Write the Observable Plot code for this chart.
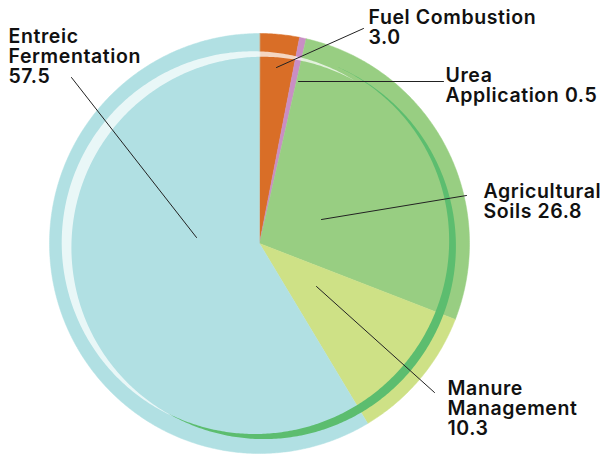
<!DOCTYPE html>
<html>
<head>
<meta charset="utf-8">
<script src="https://cdn.jsdelivr.net/npm/d3@7"></script>
<script src="https://cdn.jsdelivr.net/npm/@observablehq/plot@0.6"></script>
<style>
  html, body { margin: 0; padding: 0; background: #fff; }
  #chart svg text { letter-spacing: 0.6px; }
</style>
</head>
<body>
<div id="chart"></div>
<script>
// ---- data ----
const categories = ["Fuel Combustion", "Urea Application", "Agricultural Soils", "Manure Management", "Entreic Fermentation"];
const values = [3.0, 0.5, 26.8, 10.3, 57.5];
const labels = ["Fuel Combustion\n3.0", "Urea\nApplication 0.5", "Agricultural\nSoils 26.8", "Manure\nManagement\n10.3", "Entreic\nFermentation\n57.5"];
const colors = ["#d96e27", "#c98ec4", "#98ce82", "#cee186", "#b1e0e3"];

// ---- layout (pixel units on the plot's x/y scales) ----
const W = 603, H = 455;
const cx = 259, cy = 243, R = 210;
const labelPos = [[368, 9], [445, 67], [483, 183], [447, 380], [8, 28]];
const leaderPos = [
  [[363, 28], [276, 67]],
  [[443, 81], [298, 81]],
  [[466, 195], [321, 219]],
  [[434, 392], [316, 286]],
  [[71, 77], [196, 237]]
];

const rad = d => d * Math.PI / 180;
const px = (r, deg) => cx + r * Math.sin(rad(deg));
const py = (r, deg) => cy - r * Math.cos(rad(deg));

// slices
const total = d3.sum(values);
const slicePts = [];
let acc = 0;
categories.forEach((name, i) => {
  const a0 = acc / total * 360, a1 = (acc + values[i]) / total * 360;
  acc += values[i];
  slicePts.push({name, x: cx, y: cy});
  const n = Math.max(4, Math.ceil((a1 - a0) / 0.5));
  for (let k = 0; k <= n; k++) {
    const a = a0 + (a1 - a0) * k / n;
    slicePts.push({name, x: px(R, a), y: py(R, a)});
  }
});

// decorative tapered bands
function band(name, t0, t1, thick, rc, pow) {
  const n = 300;
  const outer = [], inner = [];
  for (let k = 0; k <= n; k++) {
    const a = t0 + (t1 - t0) * k / n;
    const s = Math.pow(k / n, pow);
    const t = thick * Math.sin(Math.PI * s);
    const r = rc(a);
    outer.push({name, x: px(r + t / 2, a), y: py(r + t / 2, a)});
    inner.push({name, x: px(r - t / 2, a), y: py(r - t / 2, a)});
  }
  return outer.concat(inner.reverse());
}
const whiteBand = band("white", 206, 390, 11, a => 191 + 2.5 * Math.cos(rad(a - 230)), 1);
const greenBand = band("green", 22, 208, 9, a => 193, 1.3);

const leaders = leaderPos.flatMap((seg, i) => seg.map(([x, y]) => ({i, x, y})));
const labelData = labels.map((t, i) => ({t, x: labelPos[i][0], y: labelPos[i][1]}));

const chart = Plot.plot({
  width: W, height: H,
  margin: 0,
  x: {domain: [0, W], range: [0, W], axis: null},
  y: {domain: [0, H], range: [0, H], axis: null},
  color: {domain: categories, range: colors},
  marks: [
    Plot.line(slicePts, {x: "x", y: "y", z: "name", fill: "name", stroke: "name", strokeWidth: 0.5, curve: "linear-closed"}),
    Plot.line(greenBand, {x: "x", y: "y", fill: "#5cbd6f", stroke: "none", curve: "linear-closed"}),
    Plot.line(whiteBand, {x: "x", y: "y", fill: "#ffffff", fillOpacity: 0.72, stroke: "none", curve: "linear-closed"}),
    Plot.line(leaders, {x: "x", y: "y", z: "i", stroke: "#222", strokeWidth: 1}),
    Plot.text(labelData, {x: "x", y: "y", text: "t", textAnchor: "start", lineAnchor: "top", lineHeight: 1.03,
      fontSize: 19.5, fontWeight: 600, fontFamily: "Inter", fill: "#111"})
  ]
});
document.getElementById("chart").appendChild(chart);
</script>
</body>
</html>
